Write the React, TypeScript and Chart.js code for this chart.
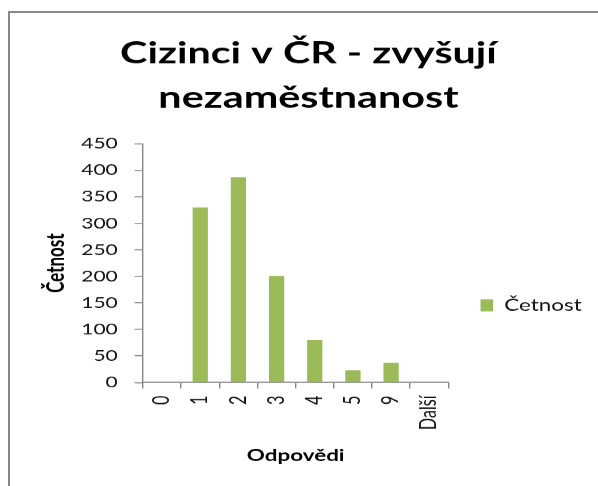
import { useEffect, useRef } from "react";
import { Chart, registerables } from "chart.js";

Chart.register(...registerables);

const categories = ["0", "1", "2", "3", "4", "5", "9", "Další"];
const counts = [0, 330, 387, 201, 80, 23, 37, 0];
const yMin = 0;
const yMax = 450;
const yStep = 50;
const titleLines = ["Cizinci v ČR - zvyšují", "nezaměstnanost"];
const seriesName = "Četnost";
const xTitle = "Odpovědi";
const yTitle = "Četnost";

const SX = 1.4;
const W = 420;
const H = 472;
const PAD_L = 13.4;

export default function App() {
  const ref = useRef<HTMLCanvasElement | null>(null);

  useEffect(() => {
    if (!ref.current) return;
    Chart.defaults.font.family = "Lato";
    Chart.defaults.font.size = 16;
    const chart = new Chart(ref.current, {
      type: "bar",
      data: {
        labels: categories,
        datasets: [
          {
            label: seriesName,
            data: counts,
            backgroundColor: "#9BBB59",
            borderWidth: 0,
            barPercentage: 0.4,
            categoryPercentage: 1,
          },
        ],
      },
      options: {
        animation: false,
        responsive: true,
        maintainAspectRatio: false,
        devicePixelRatio: SX,
        layout: { padding: { left: PAD_L, right: 7, top: 0, bottom: 0 } },
        plugins: {
          tooltip: { enabled: false },
          title: {
            display: true,
            text: titleLines,
            color: "#000",
            font: { family: "Lato", size: 29.5, weight: "bold", lineHeight: 1.52 },
            padding: { top: 17, bottom: 23 },
          },
          legend: {
            position: "right",
            title: {
              display: true,
              text: " ",
              font: { family: "Lato", size: 10, lineHeight: 1.2 },
              padding: { top: 98, bottom: 0 },
            },
            labels: {
              boxWidth: 9,
              boxHeight: 12,
              padding: 23,
              color: "#111",
              font: { family: "Lato", size: 16 },
            },
          },
        },
        scales: {
          x: {
            type: "category",
            grid: { drawOnChartArea: false, tickLength: 6, color: "#888", offset: true },
            border: { color: "#999", width: 1.5 },
            ticks: {
              autoSkip: false,
              minRotation: 90,
              maxRotation: 90,
              padding: 7,
              color: "#111",
              font: { family: "Lato", size: 16 },
            },
            title: {
              display: true,
              text: xTitle,
              color: "#000",
              font: { family: "Lato", size: 16, weight: "bold" },
              padding: { top: 0, bottom: 21 },
            },
            afterFit: (s: any) => {
              s.height = 104;
            },
          },
          y: {
            min: yMin,
            max: yMax,
            grid: { drawOnChartArea: false, tickLength: 6, color: "#888" },
            border: { color: "#888", width: 1 },
            ticks: {
              stepSize: yStep,
              padding: 12,
              color: "#111",
              font: { family: "Lato", size: 15 },
            },
            title: {
              display: true,
              text: yTitle,
              color: "#000",
              font: { family: "Lato", size: 17, weight: "bold" },
              padding: { top: 23 - PAD_L, bottom: 0 },
            },
            afterFit: (s: any) => {
              s.width = 95 - PAD_L;
            },
          },
        },
      },
    });
    return () => chart.destroy();
  }, []);

  return (
    <>
      <div
        style={{
          position: "fixed",
          left: 8,
          top: 11,
          right: 0,
          bottom: 0,
          borderLeft: "2px solid #888",
          borderTop: "2px solid #888",
          background: "#fff",
        }}
      />
      <div
        style={{
          position: "fixed",
          left: 10,
          top: 14,
          width: W,
          height: H,
          transform: `scaleX(${SX})`,
          transformOrigin: "0 0",
        }}
      >
        <canvas ref={ref} />
      </div>
    </>
  );
}
